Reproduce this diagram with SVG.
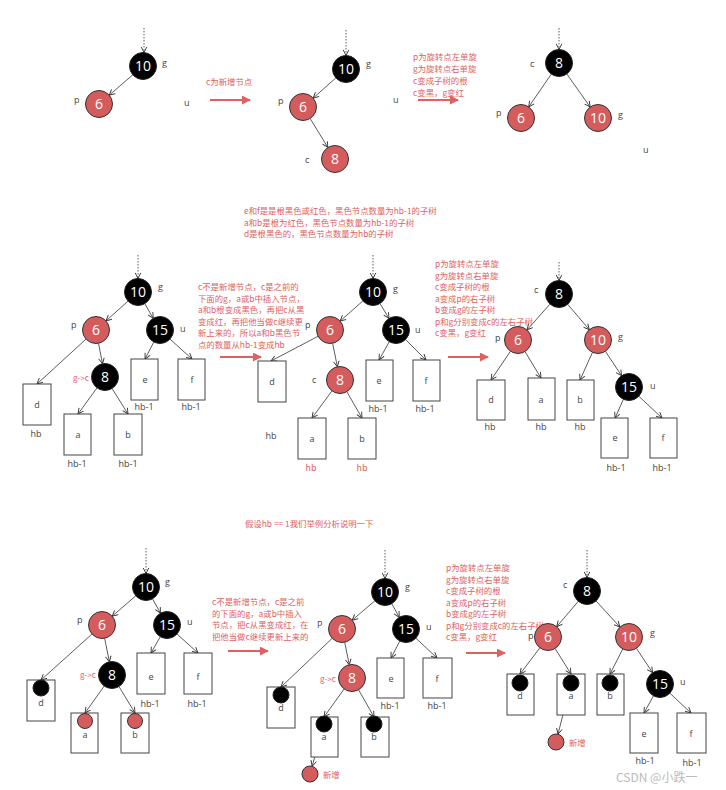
<svg xmlns="http://www.w3.org/2000/svg" width="726" height="790" viewBox="0 0 726 790">
<defs>
<marker id="ah" viewBox="0 0 10 10" refX="9" refY="5" markerWidth="7" markerHeight="7" orient="auto" markerUnits="userSpaceOnUse">
<path d="M1,1 L9,5 L1,9" fill="none" stroke="#333" stroke-width="1.3"/>
</marker>
<marker id="rh" viewBox="0 0 10 10" refX="9" refY="5" markerWidth="9" markerHeight="9" orient="auto" markerUnits="userSpaceOnUse">
<path d="M0,0 L10,5 L0,10 Z" fill="#e06060"/>
</marker>
<style>
.e{stroke:#333;stroke-width:0.8;fill:none;marker-end:url(#ah)}
.dash{stroke:#333;stroke-width:0.8;stroke-dasharray:1.5,1.5;fill:none;marker-end:url(#ah)}
.ra{stroke:#e06060;stroke-width:2;fill:none;marker-end:url(#rh)}
.nb{fill:#000;stroke:#222;stroke-width:1}
.nr{fill:#d45c5c;stroke:#333;stroke-width:1}
.nt{font-family:"Open Sans","Liberation Sans",sans-serif;font-size:14px;fill:#fff;text-anchor:middle}
.lb{font-family:"Open Sans","Liberation Sans",sans-serif;font-size:9px;fill:#444}
.lc{font-family:"Open Sans","Liberation Sans",sans-serif;font-size:9px;fill:#444;text-anchor:middle}
.bx{fill:#fff;stroke:#444;stroke-width:1}
.rt{font-family:"Noto Sans CJK SC",sans-serif;font-size:8.4px;fill:#e06060}
.wm{font-family:"Noto Sans CJK SC",sans-serif;font-size:12px;fill:#bbb}
</style>
</defs>

<g id="connectors">
<line class="dash" x1="144" y1="28" x2="144" y2="52.5"/>
<line class="e" x1="132.8" y1="74.8" x2="109.2" y2="95.2"/>
<line class="dash" x1="346" y1="30" x2="346" y2="55.5"/>
<line class="e" x1="335.9" y1="77.9" x2="313.1" y2="98.1"/>
<line class="e" x1="310.1" y1="118.5" x2="327.9" y2="147.5"/>
<line class="dash" x1="559" y1="28" x2="559" y2="49.5"/>
<line class="e" x1="551.3" y1="74.1" x2="528.7" y2="106.9"/>
<line class="e" x1="566.8" y1="74" x2="590.2" y2="107"/>
<line class="dash" x1="138" y1="255" x2="138" y2="278.5"/>
<line class="e" x1="128" y1="301.1" x2="106" y2="320.9"/>
<line class="e" x1="144.8" y1="303.7" x2="153.2" y2="318.3"/>
<line class="e" x1="86" y1="339.1" x2="37" y2="384"/>
<line class="e" x1="98.5" y1="343.2" x2="102.5" y2="363.8"/>
<line class="e" x1="97" y1="387.9" x2="78" y2="414"/>
<line class="e" x1="112.1" y1="388.5" x2="128" y2="414"/>
<line class="e" x1="153.8" y1="342" x2="145" y2="359"/>
<line class="e" x1="170" y1="339.1" x2="192" y2="359"/>
<line class="dash" x1="373" y1="255" x2="373" y2="278.5"/>
<line class="e" x1="362.9" y1="300.9" x2="340.1" y2="321.1"/>
<line class="e" x1="380" y1="303.6" x2="389" y2="318.4"/>
<line class="e" x1="318" y1="336.3" x2="271" y2="361"/>
<line class="e" x1="332.6" y1="343.2" x2="337.4" y2="366.8"/>
<line class="e" x1="332" y1="390.9" x2="312" y2="418"/>
<line class="e" x1="346.8" y1="391.7" x2="362" y2="418"/>
<line class="e" x1="389.3" y1="341.7" x2="379" y2="360"/>
<line class="e" x1="405.5" y1="339.5" x2="426" y2="360"/>
<line class="dash" x1="559" y1="262" x2="559" y2="280.5"/>
<line class="e" x1="550" y1="304.1" x2="527" y2="329.9"/>
<line class="e" x1="567.7" y1="304.3" x2="589.3" y2="329.7"/>
<line class="e" x1="510.5" y1="351.2" x2="491" y2="380"/>
<line class="e" x1="525" y1="351.6" x2="541" y2="378"/>
<line class="e" x1="592.5" y1="352.3" x2="580" y2="380"/>
<line class="e" x1="605.4" y1="351.3" x2="621.6" y2="375.7"/>
<line class="e" x1="623.4" y1="399.3" x2="615" y2="418"/>
<line class="e" x1="638.8" y1="396.2" x2="662" y2="418"/>
<line class="dash" x1="146" y1="548" x2="146" y2="573.5"/>
<line class="e" x1="135.8" y1="595.8" x2="112.2" y2="616.2"/>
<line class="e" x1="152.5" y1="598.8" x2="160.5" y2="613.2"/>
<line class="e" x1="92" y1="634" x2="41" y2="680"/>
<line class="e" x1="104.6" y1="638.2" x2="109.4" y2="661.8"/>
<line class="e" x1="104.2" y1="686" x2="85" y2="713"/>
<line class="e" x1="119" y1="686.6" x2="135" y2="713"/>
<line class="e" x1="160.3" y1="636.7" x2="151" y2="653"/>
<line class="e" x1="177" y1="634" x2="198" y2="653"/>
<line class="dash" x1="385" y1="550" x2="385" y2="578.5"/>
<line class="e" x1="374.8" y1="600.8" x2="352.2" y2="620.2"/>
<line class="e" x1="391.7" y1="603.7" x2="399.3" y2="617.3"/>
<line class="e" x1="332.2" y1="638.3" x2="281" y2="687"/>
<line class="e" x1="344.7" y1="642.2" x2="349.3" y2="664.8"/>
<line class="e" x1="344.1" y1="689" x2="324" y2="717"/>
<line class="e" x1="358.6" y1="689.8" x2="374" y2="717"/>
<line class="e" x1="399.8" y1="641" x2="391" y2="658"/>
<line class="e" x1="415.9" y1="638.2" x2="437" y2="658"/>
<line class="e" x1="321.8" y1="731.7" x2="312.2" y2="766.3"/>
<line class="dash" x1="587" y1="550" x2="587" y2="577.5"/>
<line class="e" x1="578.3" y1="601.3" x2="556.7" y2="626.7"/>
<line class="e" x1="596.1" y1="601" x2="619.9" y2="627"/>
<line class="e" x1="539.9" y1="647.8" x2="520" y2="674"/>
<line class="e" x1="555.1" y1="648.5" x2="571" y2="674"/>
<line class="e" x1="622.8" y1="649" x2="610" y2="674"/>
<line class="e" x1="636.4" y1="648.3" x2="652.6" y2="672.7"/>
<line class="e" x1="653.5" y1="695.8" x2="644" y2="713"/>
<line class="e" x1="669.9" y1="693.2" x2="691" y2="713"/>
<line class="e" x1="569" y1="690.8" x2="558" y2="734.2"/>
<line class="ra" x1="210" y1="100" x2="250" y2="100"/>
<line class="ra" x1="418" y1="100" x2="458" y2="100"/>
<line class="ra" x1="220" y1="357" x2="261" y2="357"/>
<line class="ra" x1="448" y1="357" x2="488" y2="357"/>
<line class="ra" x1="228" y1="651" x2="268" y2="651"/>
<line class="ra" x1="466" y1="653" x2="505" y2="653"/>
</g>

<g id="treeA">
<circle class="nb" cx="143" cy="66" r="13.5"/><text class="nt" x="143" y="71">10</text>
<text class="lb" x="162" y="66">g</text>
<circle class="nr" cx="99" cy="104" r="13.5"/><text class="nt" x="99" y="109">6</text>
<text class="lb" x="74" y="103">p</text>
<text class="lb" x="184" y="106">u</text>
</g>
<text class="rt" x="206" y="85">c为新增节点</text>
<g id="treeB">
<circle class="nb" cx="346" cy="69" r="13.5"/><text class="nt" x="346" y="74">10</text>
<text class="lb" x="366" y="67">g</text>
<circle class="nr" cx="303" cy="107" r="13.5"/><text class="nt" x="303" y="112">6</text>
<text class="lb" x="278" y="104">p</text>
<text class="lb" x="393" y="103">u</text>
<circle class="nr" cx="335" cy="159" r="13.5"/><text class="nt" x="335" y="164">8</text>
<text class="lb" x="305" y="163">c</text>
</g>
<g id="noteB">
<text class="rt" x="413" y="60">p为旋转点左单旋</text>
<text class="rt" x="413" y="72">g为旋转点右单旋</text>
<text class="rt" x="413" y="84">c变成子树的根</text>
<text class="rt" x="413" y="96">c变黑，g变红</text>
</g>
<g id="treeC">
<circle class="nb" cx="559" cy="63" r="13.5"/><text class="nt" x="559" y="68">8</text>
<text class="lb" x="530" y="67">c</text>
<circle class="nr" cx="521" cy="118" r="13.5"/><text class="nt" x="521" y="123">6</text>
<text class="lb" x="496" y="116">p</text>
<circle class="nr" cx="598" cy="118" r="13.5"/><text class="nt" x="598" y="123">10</text>
<text class="lb" x="618" y="118">g</text>
<text class="lb" x="643" y="153">u</text>
</g>

<g id="noteTop">
<text class="rt" x="244" y="214">e和f是是根黑色或红色，黑色节点数量为hb-1的子树</text>
<text class="rt" x="244" y="226">a和b是根为红色，黑色节点数量为hb-1的子树</text>
<text class="rt" x="244" y="237">d是根黑色的，黑色节点数量为hb的子树</text>
</g>
<g id="treeD">
<rect class="bx" x="23" y="384" width="28" height="41"/><text class="lc" x="37" y="408">d</text>
<text class="lc" x="36" y="437">hb</text>
<rect class="bx" x="64" y="414" width="27" height="41"/><text class="lc" x="78" y="438">a</text>
<text class="lc" x="77" y="467">hb-1</text>
<rect class="bx" x="114" y="414" width="28" height="41"/><text class="lc" x="128" y="438">b</text>
<text class="lc" x="128" y="467">hb-1</text>
<rect class="bx" x="131" y="359" width="27" height="41"/><text class="lc" x="145" y="383">e</text>
<text class="lc" x="144" y="410">hb-1</text>
<rect class="bx" x="178" y="359" width="27" height="41"/><text class="lc" x="192" y="383">f</text>
<text class="lc" x="191" y="410">hb-1</text>
<circle class="nb" cx="138" cy="292" r="13.5"/><text class="nt" x="138" y="297">10</text>
<text class="lb" x="158" y="290">g</text>
<circle class="nr" cx="96" cy="330" r="13.5"/><text class="nt" x="96" y="335">6</text>
<text class="lb" x="71" y="328">p</text>
<circle class="nb" cx="160" cy="330" r="13.5"/><text class="nt" x="160" y="335">15</text>
<text class="lb" x="180" y="332">u</text>
<circle class="nb" cx="105" cy="377" r="13.5"/><text class="nt" x="105" y="382">8</text>
<text class="rt" x="73" y="381" style="font-size:8px">g-&gt;c</text>
</g>
<g id="noteD">
<text class="rt" x="198" y="290">c不是新增节点，c是之前的</text>
<text class="rt" x="198" y="301.6">下面的g，a或b中插入节点，</text>
<text class="rt" x="198" y="313.2">a和b根变成黑色，再把c从黑</text>
<text class="rt" x="198" y="324.8">变成红，再把他当做c继续更</text>
<text class="rt" x="198" y="336.4">新上来的，所以a和b黑色节</text>
<text class="rt" x="198" y="348">点的数量从hb-1变成hb</text>
</g>
<g id="treeE">
<rect class="bx" x="258" y="361" width="28" height="41"/><text class="lc" x="272" y="385">d</text>
<text class="lc" x="271" y="439">hb</text>
<rect class="bx" x="298" y="418" width="28" height="41"/><text class="lc" x="312" y="442">a</text>
<text class="rt" x="311" y="471" style="text-anchor:middle;font-size:9px">hb</text>
<rect class="bx" x="348" y="418" width="28" height="41"/><text class="lc" x="362" y="442">b</text>
<text class="rt" x="362" y="471" style="text-anchor:middle;font-size:9px">hb</text>
<rect class="bx" x="366" y="360" width="27" height="41"/><text class="lc" x="379" y="384">e</text>
<text class="lc" x="378" y="412">hb-1</text>
<rect class="bx" x="413" y="360" width="27" height="41"/><text class="lc" x="426" y="384">f</text>
<text class="lc" x="425" y="412">hb-1</text>
<circle class="nb" cx="373" cy="292" r="13.5"/><text class="nt" x="373" y="297">10</text>
<text class="lb" x="393" y="292">g</text>
<circle class="nr" cx="330" cy="330" r="13.5"/><text class="nt" x="330" y="335">6</text>
<text class="lb" x="305" y="328">p</text>
<circle class="nb" cx="396" cy="330" r="13.5"/><text class="nt" x="396" y="335">15</text>
<text class="lb" x="415" y="333">u</text>
<circle class="nr" cx="340" cy="380" r="13.5"/><text class="nt" x="340" y="385">8</text>
<text class="lb" x="312" y="383">c</text>
</g>
<g id="noteE">
<text class="rt" x="435" y="267">p为旋转点左单旋</text>
<text class="rt" x="435" y="278.5">g为旋转点右单旋</text>
<text class="rt" x="435" y="290">c变成子树的根</text>
<text class="rt" x="435" y="301.5">a变成p的右子树</text>
<text class="rt" x="435" y="313">b变成g的左子树</text>
<text class="rt" x="435" y="324.5">p和g分别变成c的左右子树</text>
<text class="rt" x="435" y="336">c变黑，g变红</text>
</g>
<g id="treeF">
<rect class="bx" x="477" y="380" width="28" height="40"/><text class="lc" x="491" y="403">d</text>
<text class="lc" x="490" y="430">hb</text>
<rect class="bx" x="528" y="378" width="27" height="42"/><text class="lc" x="541" y="403">a</text>
<text class="lc" x="541" y="430">hb</text>
<rect class="bx" x="567" y="380" width="27" height="40"/><text class="lc" x="580" y="403">b</text>
<text class="lc" x="580" y="430">hb</text>
<rect class="bx" x="601" y="418" width="27" height="40"/><text class="lc" x="615" y="441">e</text>
<text class="lc" x="616" y="471">hb-1</text>
<rect class="bx" x="650" y="418" width="27" height="40"/><text class="lc" x="663" y="441">f</text>
<text class="lc" x="662" y="471">hb-1</text>
<circle class="nb" cx="559" cy="294" r="13.5"/><text class="nt" x="559" y="299">8</text>
<text class="lb" x="534" y="293">c</text>
<circle class="nr" cx="518" cy="340" r="13.5"/><text class="nt" x="518" y="345">6</text>
<text class="lb" x="495" y="341">p</text>
<circle class="nr" cx="598" cy="340" r="13.5"/><text class="nt" x="598" y="345">10</text>
<text class="lb" x="618" y="340">g</text>
<circle class="nb" cx="629" cy="387" r="13.5"/><text class="nt" x="629" y="392">15</text>
<text class="lb" x="650" y="389">u</text>
</g>

<text class="rt" x="245" y="527">假设hb == 1我们举例分析说明一下</text>

<g id="treeG">
<rect class="bx" x="27" y="680" width="28" height="41"/>
<circle class="nb" cx="41" cy="688" r="8"/><text class="lc" x="41" y="706">d</text>
<rect class="bx" x="71" y="713" width="27" height="40"/>
<circle class="nr" cx="85" cy="721" r="7.5"/><text class="lc" x="85" y="738">a</text>
<rect class="bx" x="121" y="713" width="28" height="40"/>
<circle class="nr" cx="135" cy="721" r="7.5"/><text class="lc" x="135" y="738">b</text>
<rect class="bx" x="137" y="653" width="28" height="41"/><text class="lc" x="151" y="680">e</text>
<text class="lc" x="150" y="707">hb-1</text>
<rect class="bx" x="184" y="653" width="28" height="41"/><text class="lc" x="198" y="680">f</text>
<text class="lc" x="197" y="707">hb-1</text>
<circle class="nb" cx="146" cy="587" r="13.5"/><text class="nt" x="146" y="592">10</text>
<text class="lb" x="165" y="585">g</text>
<circle class="nr" cx="102" cy="625" r="13.5"/><text class="nt" x="102" y="630">6</text>
<text class="lb" x="77" y="623">p</text>
<circle class="nb" cx="167" cy="625" r="13.5"/><text class="nt" x="167" y="630">15</text>
<text class="lb" x="187" y="625">u</text>
<circle class="nb" cx="112" cy="675" r="13.5"/><text class="nt" x="112" y="680">8</text>
<text class="rt" x="80" y="678" style="font-size:8px">g-&gt;c</text>
</g>
<g id="noteG">
<text class="rt" x="212" y="605">c不是新增节点，c是之前</text>
<text class="rt" x="212" y="616.5">的下面的g，a或b中插入</text>
<text class="rt" x="212" y="628">节点，把c从黑变成红，在</text>
<text class="rt" x="212" y="639.5">把他当做c继续更新上来的</text>
</g>
<g id="treeH">
<rect class="bx" x="267" y="687" width="28" height="41"/>
<circle class="nb" cx="281" cy="695" r="8"/><text class="lc" x="281" y="711">d</text>
<rect class="bx" x="311" y="717" width="27" height="40"/>
<circle class="nb" cx="324" cy="724" r="8"/><text class="lc" x="324" y="740">a</text>
<rect class="bx" x="361" y="717" width="28" height="40"/>
<circle class="nb" cx="374" cy="724" r="8"/><text class="lc" x="374" y="740">b</text>
<rect class="bx" x="377" y="658" width="27" height="40"/><text class="lc" x="391" y="682">e</text>
<text class="lc" x="390" y="709">hb-1</text>
<rect class="bx" x="423" y="658" width="29" height="40"/><text class="lc" x="437" y="682">f</text>
<text class="lc" x="437" y="709">hb-1</text>
<circle class="nb" cx="385" cy="592" r="13.5"/><text class="nt" x="385" y="597">10</text>
<text class="lb" x="405" y="590">g</text>
<circle class="nr" cx="342" cy="629" r="13.5"/><text class="nt" x="342" y="634">6</text>
<text class="lb" x="317" y="628">P</text>
<circle class="nb" cx="406" cy="629" r="13.5"/><text class="nt" x="406" y="634">15</text>
<text class="lb" x="426" y="630">u</text>
<circle class="nr" cx="352" cy="678" r="13.5"/><text class="nt" x="352" y="683">8</text>
<text class="rt" x="320" y="682" style="font-size:8px">g-&gt;c</text>
<circle class="nr" cx="310" cy="774" r="8"/>
<text class="rt" x="323" y="778">新增</text>
</g>
<g id="noteH">
<text class="rt" x="446" y="571">p为旋转点左单旋</text>
<text class="rt" x="446" y="582.5">g为旋转点右单旋</text>
<text class="rt" x="446" y="594">c变成子树的根</text>
<text class="rt" x="446" y="605.5">a变成p的右子树</text>
<text class="rt" x="446" y="617">b变成g的左子树</text>
<text class="rt" x="446" y="628.5">p和g分别变成c的左右子树</text>
<text class="rt" x="446" y="640">c变黑，g变红</text>
</g>
<g id="treeI">
<rect class="bx" x="507" y="674" width="27" height="41"/>
<circle class="nb" cx="520" cy="683" r="8"/><text class="lc" x="520" y="699">d</text>
<rect class="bx" x="557" y="674" width="28" height="41"/>
<circle class="nb" cx="571" cy="683" r="8"/><text class="lc" x="571" y="699">a</text>
<rect class="bx" x="597" y="674" width="27" height="41"/>
<circle class="nb" cx="610" cy="683" r="8"/><text class="lc" x="610" y="699">b</text>
<rect class="bx" x="630" y="713" width="28" height="40"/><text class="lc" x="644" y="737">e</text>
<text class="lc" x="645" y="764">hb-1</text>
<rect class="bx" x="677" y="713" width="29" height="40"/><text class="lc" x="691" y="737">f</text>
<text class="lc" x="692" y="766">hb-1</text>
<circle class="nb" cx="587" cy="591" r="13.5"/><text class="nt" x="587" y="596">8</text>
<text class="lb" x="563" y="588">c</text>
<circle class="nr" cx="548" cy="637" r="13.5"/><text class="nt" x="548" y="642">6</text>
<text class="lb" x="528" y="639">p</text>
<circle class="nr" cx="629" cy="637" r="13.5"/><text class="nt" x="629" y="642">10</text>
<text class="lb" x="650" y="636">g</text>
<circle class="nb" cx="660" cy="684" r="13.5"/><text class="nt" x="660" y="689">15</text>
<text class="lb" x="680" y="685">u</text>
<circle class="nr" cx="556" cy="742" r="8"/>
<text class="rt" x="569" y="746">新增</text>
</g>

<text class="wm" x="616" y="782">CSDN @小跌一</text>
</svg>
